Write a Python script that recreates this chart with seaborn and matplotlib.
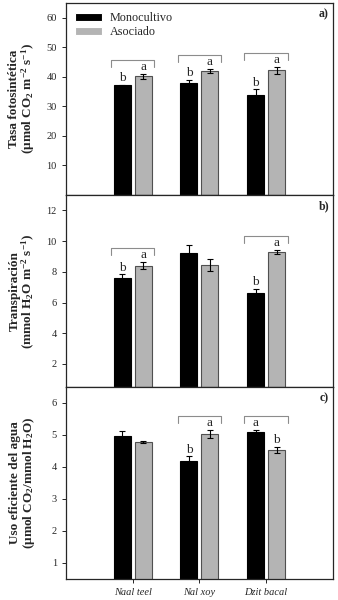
import numpy as np
import pandas as pd
import seaborn as sns
import matplotlib.pyplot as plt

cultivares = ["Naal teel", "Nal xoy", "Dzit bacal"]
sistemas = ["Monocultivo", "Asociado"]

# tasa fotosintetica
foto_mono = [37.2, 37.8, 33.9]
foto_mono_err = [0.2, 1.2, 2.0]
foto_aso = [40.2, 42.0, 42.2]
foto_aso_err = [0.8, 0.7, 1.3]
foto_letras = [("b", "a"), ("b", "a"), ("b", "a")]

# transpiracion
trans_mono = [7.6, 9.25, 6.6]
trans_mono_err = [0.25, 0.5, 0.3]
trans_aso = [8.4, 8.45, 9.3]
trans_aso_err = [0.25, 0.4, 0.15]
trans_letras = [("b", "a"), None, ("b", "a")]

# uso eficiente del agua
uea_mono = [4.97, 4.18, 5.1]
uea_mono_err = [0.14, 0.15, 0.07]
uea_aso = [4.78, 5.03, 4.53]
uea_aso_err = [0.04, 0.13, 0.1]
uea_letras = [None, ("b", "a"), ("a", "b")]

paneles = [
    dict(mono=foto_mono, mono_err=foto_mono_err, aso=foto_aso, aso_err=foto_aso_err,
         letras=foto_letras, ylim=(0, 65), yticks=[10, 20, 30, 40, 50, 60], tag="a)",
         ylabel="Tasa fotosintética\n(µmol CO$_2$ m$^{-2}$ s$^{-1}$)"),
    dict(mono=trans_mono, mono_err=trans_mono_err, aso=trans_aso, aso_err=trans_aso_err,
         letras=trans_letras, ylim=(0.5, 13), yticks=[2, 4, 6, 8, 10, 12], tag="b)",
         ylabel="Transpiración\n(mmol H$_2$O m$^{-2}$ s$^{-1}$)"),
    dict(mono=uea_mono, mono_err=uea_mono_err, aso=uea_aso, aso_err=uea_aso_err,
         letras=uea_letras, ylim=(0.5, 6.5), yticks=[1, 2, 3, 4, 5, 6], tag="c)",
         ylabel="Uso eficiente del agua\n(µmol CO$_2$/mmol H$_2$O)"),
]

sns.set_style("ticks")
plt.rcParams["font.family"] = ["Liberation Serif", "DejaVu Serif"]
plt.rcParams["mathtext.default"] = "regular"

fig, axes = plt.subplots(3, 1, figsize=(3.38, 6.0), dpi=100, sharex=True)
fig.subplots_adjust(left=0.195, right=0.985, top=0.995, bottom=0.035, hspace=0)

colores = ["black", "#b4b4b4"]
bordes = ["black", "#505050"]

for i, (ax, p) in enumerate(zip(axes, paneles)):
    df = pd.DataFrame({
        "cultivar": cultivares * 2,
        "sistema": [sistemas[0]] * 3 + [sistemas[1]] * 3,
        "valor": p["mono"] + p["aso"],
    })
    sns.barplot(data=df, x="cultivar", y="valor", hue="sistema", hue_order=sistemas,
                order=cultivares, palette=colores, width=0.63, gap=0.19,
                errorbar=None, legend=(i == 0), ax=ax, saturation=1)
    lo, hi = p["ylim"]
    rng = hi - lo
    tops = []
    for k, (cont, vals, errs) in enumerate(zip(ax.containers,
                                               [p["mono"], p["aso"]],
                                               [p["mono_err"], p["aso_err"]])):
        xs = []
        for bar in cont:
            bar.set_edgecolor(bordes[k])
            bar.set_linewidth(0.8)
            xs.append(bar.get_x() + bar.get_width() / 2)
        ax.errorbar(xs, vals, yerr=errs, fmt="none", ecolor="black",
                    elinewidth=0.8, capsize=2.5, capthick=0.8)
        tops.append((xs, [v + e for v, e in zip(vals, errs)],
                     [bar.get_width() for bar in cont]))
    for g, let in enumerate(p["letras"]):
        if let is None:
            continue
        (x0s, t0s, w0s), (x1s, t1s, w1s) = tops
        x0, x1 = x0s[g] - w0s[g] / 2 - 0.04, x1s[g] + w1s[g] / 2 + 0.04
        yb = max(t0s[g], t1s[g]) + 0.07 * rng
        ax.plot([x0, x0, x1, x1], [yb - 0.036 * rng, yb, yb, yb - 0.036 * rng],
                color="#8c8c8c", lw=0.8)
        for xc, tc, txt in [(x0s[g], t0s[g], let[0]), (x1s[g], t1s[g], let[1])]:
            ax.text(xc, tc + 0.018 * rng, txt, ha="center", va="baseline", fontsize=9.5)
    ax.set_ylim(lo, hi)
    ax.set_yticks(p["yticks"])
    ax.set_xlim(-1, 3)
    ax.set_ylabel(p["ylabel"], fontsize=9.5, fontweight="bold", labelpad=7,
                  linespacing=0.95)
    ax.set_xlabel("")
    ax.tick_params(axis="y", labelsize=7.5, direction="out", length=3, width=0.7)
    ax.tick_params(axis="x", length=0)
    ax.text(0.985, 0.975, p["tag"], transform=ax.transAxes, ha="right", va="top",
            fontsize=8.5, fontweight="bold")
    for s in ax.spines.values():
        s.set_linewidth(0.9)

axes[0].legend(loc="upper left", frameon=False, fontsize=8.7, handlelength=2.2,
               handleheight=0.6, borderaxespad=0.35, labelspacing=0.2,
               handletextpad=0.7)
for h in axes[0].get_legend().legend_handles:
    h.set_linewidth(0.8)

axes[2].tick_params(axis="x", length=3, width=0.7, labelsize=7.5, direction="out")
for lab in axes[2].get_xticklabels():
    lab.set_fontstyle("italic")

fig.align_ylabels(axes)
fig.savefig("out.png", dpi=100)
